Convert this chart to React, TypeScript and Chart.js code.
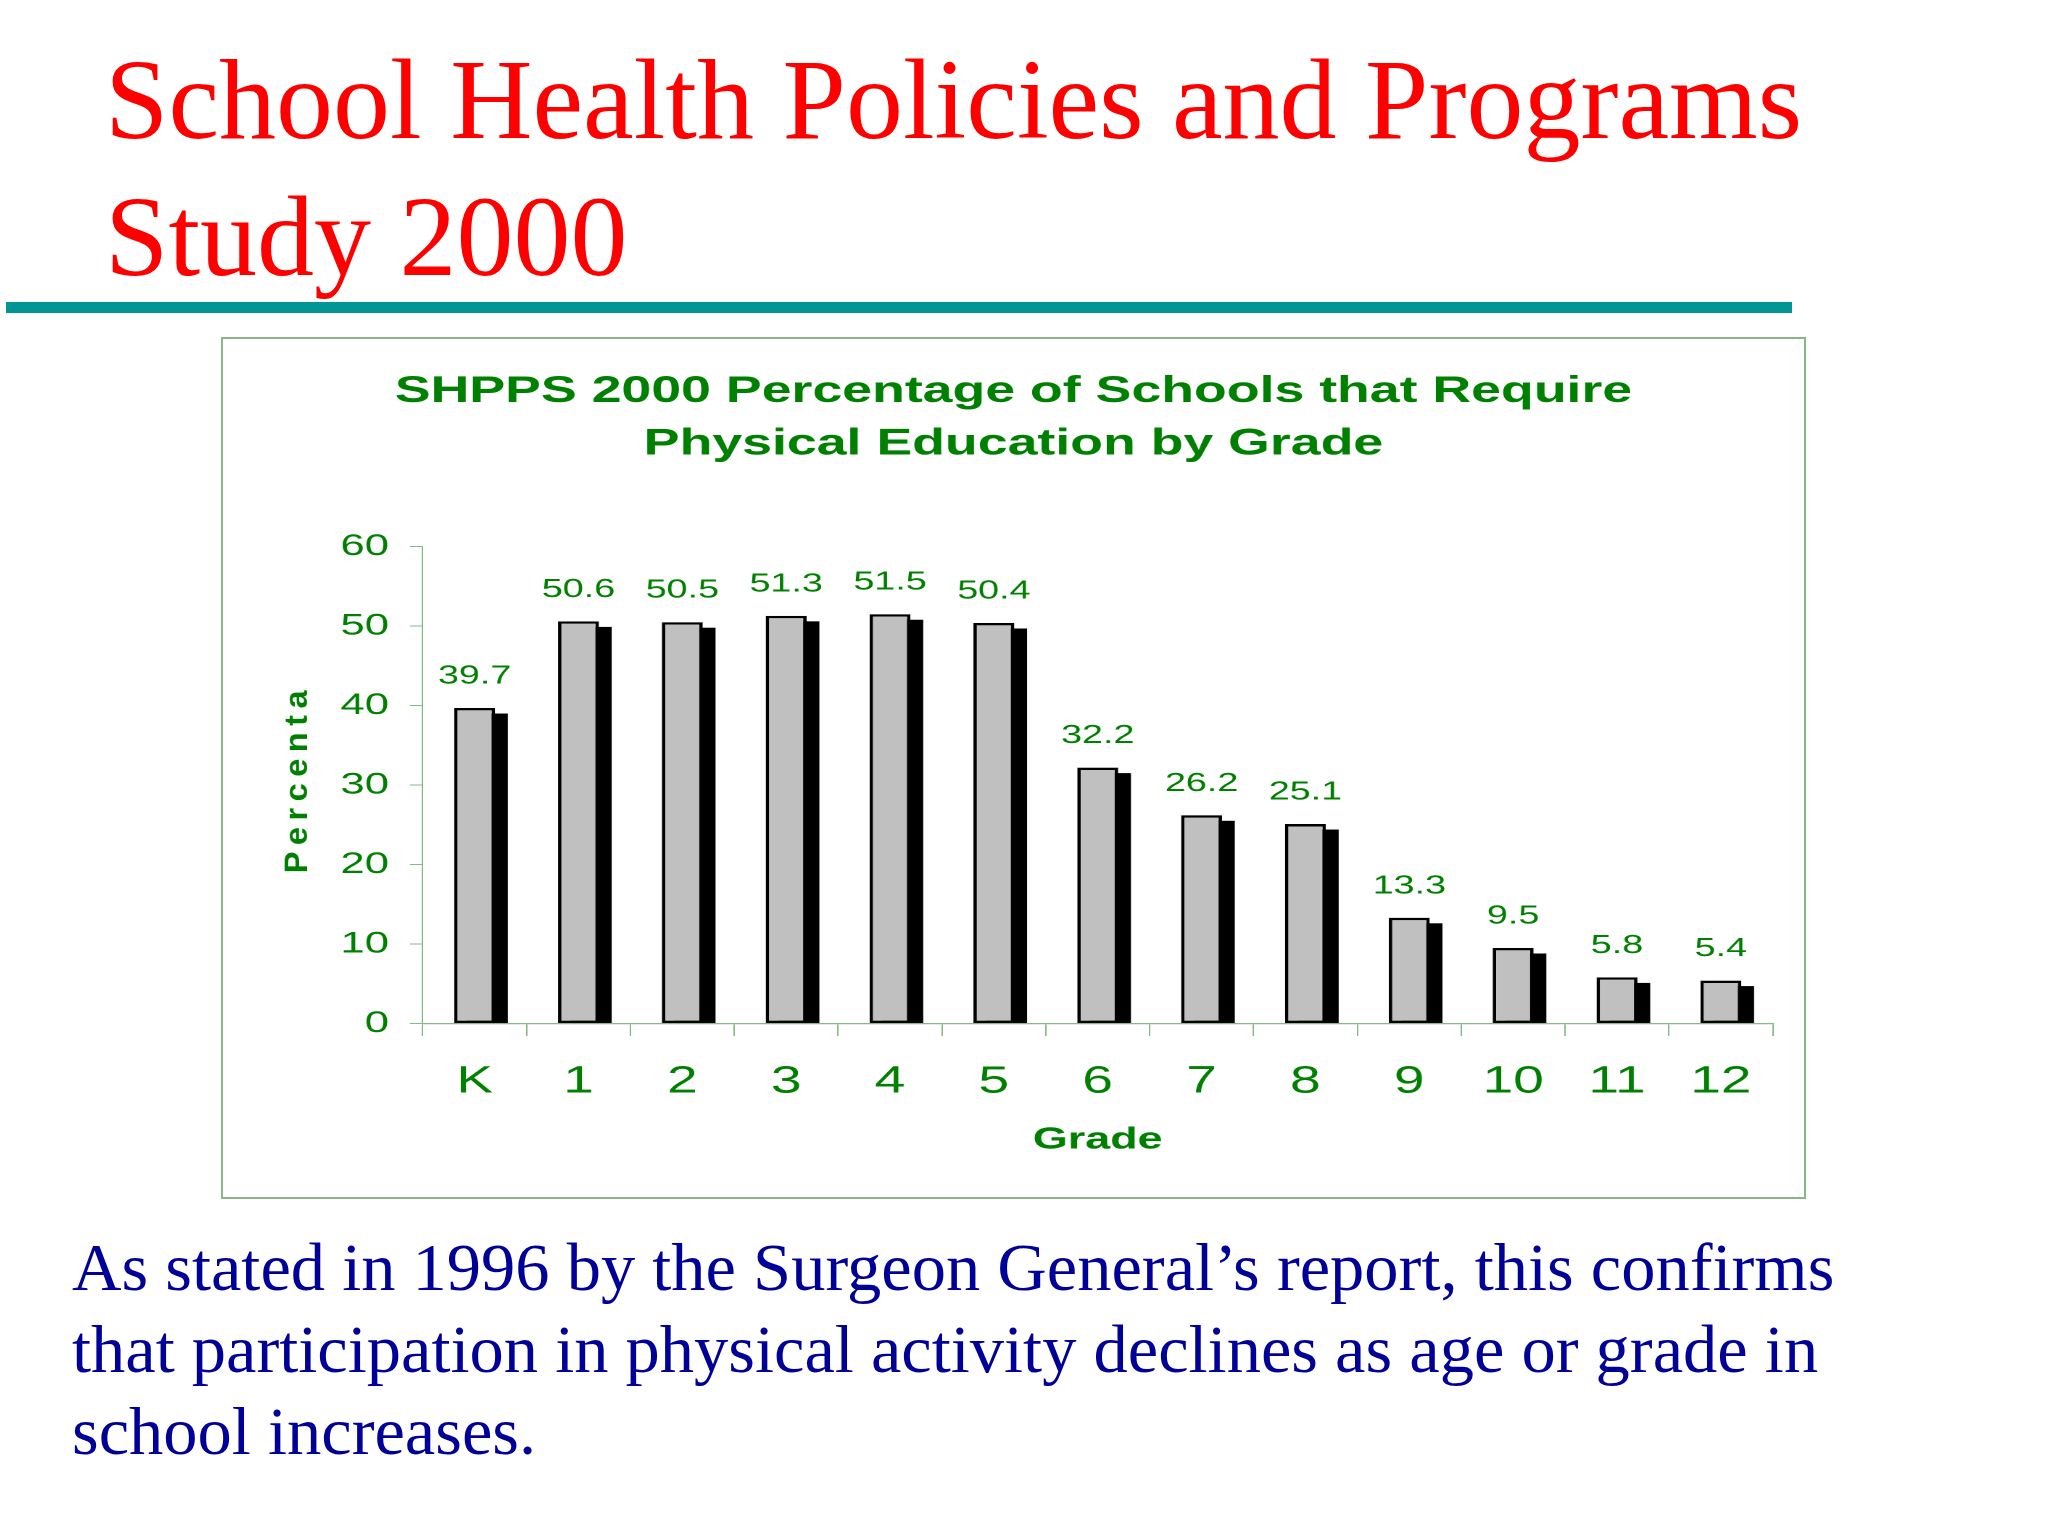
import React, { useEffect, useRef } from "react";
import { Chart, registerables } from "chart.js";

Chart.register(...registerables);

// chart data
const grades = ["K", "1", "2", "3", "4", "5", "6", "7", "8", "9", "10", "11", "12"];
const percentages = [39.7, 50.6, 50.5, 51.3, 51.5, 50.4, 32.2, 26.2, 25.1, 13.3, 9.5, 5.8, 5.4];
const yTickValues = [0, 10, 20, 30, 40, 50, 60];
const chartTitle = ["SHPPS 2000 Percentage of Schools that Require", "Physical Education by Grade"];
const xTitle = "Grade";
const yTitle = "Percenta";

const slideTitle = ["School Health Policies and Programs", "Study 2000"];
const bodyLines = [
  "As stated in 1996 by the Surgeon General\u2019s report, this confirms",
  "that participation in physical activity declines as age or grade in",
  "school increases.",
];

const SANS = "'Liberation Sans', Arial, sans-serif";
const SERIF = "'Liberation Serif', 'Times New Roman', serif";
const GREEN = "#008000";
const AXIS = "#88b888";
// the embedded chart is stretched sideways in the slide
const STRETCH = 1.45;
const BOX_W = 1581;
const BOX_H = 858;
const SHADOW_DX = 8.8;
const SHADOW_DY = 5.5;

const barShadow = {
  id: "barShadow",
  beforeDatasetsDraw(chart: any) {
    const { ctx } = chart;
    const meta = chart.getDatasetMeta(0);
    ctx.save();
    ctx.fillStyle = "#000";
    meta.data.forEach((bar: any) => {
      const { x, y, base, width } = bar.getProps(["x", "y", "base", "width"], true);
      const top = y + SHADOW_DY;
      ctx.fillRect(x - width / 2 + SHADOW_DX, top, width, base - top);
    });
    ctx.restore();
  },
};

const valueLabels = {
  id: "valueLabels",
  afterDatasetsDraw(chart: any) {
    const { ctx } = chart;
    const meta = chart.getDatasetMeta(0);
    ctx.save();
    ctx.font = `26px ${SANS}`;
    ctx.fillStyle = GREEN;
    ctx.textAlign = "center";
    ctx.textBaseline = "alphabetic";
    meta.data.forEach((bar: any, i: number) => {
      const { x, y } = bar.getProps(["x", "y"], true);
      ctx.fillText(String(percentages[i]), x, y - 24.5);
    });
    ctx.restore();
  },
};

// rotated axis title, kept unstretched and letter-spaced like the original
const yAxisTitle = {
  id: "yAxisTitle",
  afterDraw(chart: any) {
    const { ctx, chartArea } = chart;
    ctx.save();
    ctx.translate(51.9, (chartArea.top + chartArea.bottom) / 2 - 6.5);
    ctx.scale(1 / STRETCH, 1);
    ctx.rotate(-Math.PI / 2);
    ctx.font = `bold 32.5px ${SANS}`;
    (ctx as any).letterSpacing = "6.5px";
    ctx.fillStyle = GREEN;
    ctx.textAlign = "center";
    ctx.textBaseline = "middle";
    ctx.fillText(yTitle, 0, 0);
    ctx.restore();
  },
};

const App = () => {
  const canvasRef = useRef<HTMLCanvasElement>(null);

  useEffect(() => {
    if (!canvasRef.current) return;
    const chart = new Chart(canvasRef.current, {
      type: "bar",
      data: {
        labels: grades,
        datasets: [
          {
            data: percentages,
            backgroundColor: "#c0c0c0",
            borderColor: "#000",
            borderWidth: 2.4,
            borderSkipped: false,
            barPercentage: 0.394,
            categoryPercentage: 1,
          },
        ],
      },
      options: {
        animation: false,
        responsive: true,
        maintainAspectRatio: false,
        devicePixelRatio: 2,
        layout: { padding: { left: 21.5, right: 21.5, top: 0, bottom: 0 } },
        plugins: {
          legend: { display: false },
          tooltip: { enabled: false },
          title: {
            display: true,
            text: chartTitle,
            color: GREEN,
            font: { family: SANS, size: 37, weight: "bold", lineHeight: "52.6px" },
            padding: { top: 26.6, bottom: 75.9 },
          },
        },
        scales: {
          x: {
            grid: {
              display: true,
              drawOnChartArea: false,
              drawTicks: true,
              tickLength: 12.5,
              color: AXIS,
              lineWidth: 1,
              offset: true,
            },
            border: { display: true, color: AXIS, width: 1.3 },
            ticks: {
              color: GREEN,
              font: { family: SANS, size: 38 },
              padding: 23,
              maxRotation: 0,
              autoSkip: false,
            },
            title: {
              display: true,
              text: xTitle,
              color: GREEN,
              font: { family: SANS, size: 31, weight: "bold" },
              padding: { top: 0, bottom: 38.5 },
            },
            afterFit: (s: any) => {
              s.height = 173.5;
            },
          },
          y: {
            min: 0,
            max: 60,
            afterBuildTicks: (s: any) => {
              s.ticks = yTickValues.map((v) => ({ value: v }));
            },
            ticks: { color: GREEN, font: { family: SANS, size: 30 }, padding: 14.5 },
            grid: {
              drawOnChartArea: false,
              drawTicks: true,
              tickLength: 8.8,
              color: AXIS,
              lineWidth: 1,
            },
            border: { display: true, color: AXIS, width: 1 },
            afterFit: (s: any) => {
              s.width = 137.7 - 21.5;
            },
          },
        },
      },
      plugins: [barShadow, valueLabels, yAxisTitle],
    });

    return () => {
      chart.destroy();
    };
  }, []);

  return (
    <div
      style={{
        position: "absolute",
        left: 0,
        top: 0,
        width: 2048,
        height: 1536,
        background: "#fff",
        overflow: "hidden",
      }}
    >
      <div
        style={{
          position: "absolute",
          left: 105,
          top: 31,
          font: `114px ${SERIF}`,
          lineHeight: "137px",
          color: "#ff0000",
          whiteSpace: "nowrap",
        }}
      >
        {slideTitle.map((t) => (
          <div key={t}>{t}</div>
        ))}
      </div>
      <div style={{ position: "absolute", left: 6, top: 302, width: 1786, height: 11, background: "#009696" }} />
      <div
        style={{
          position: "absolute",
          left: 221,
          top: 337,
          width: BOX_W,
          height: BOX_H,
          border: "2px solid #86b886",
        }}
      >
        <div
          style={{
            position: "absolute",
            left: 0,
            top: 0,
            width: BOX_W / STRETCH,
            height: BOX_H,
            transform: `scaleX(${STRETCH})`,
            transformOrigin: "0 0",
          }}
        >
          <canvas ref={canvasRef} />
        </div>
      </div>
      <div
        style={{
          position: "absolute",
          left: 72,
          top: 1226,
          font: `68.5px ${SERIF}`,
          lineHeight: "82px",
          color: "#000099",
          whiteSpace: "nowrap",
        }}
      >
        {bodyLines.map((t) => (
          <div key={t}>{t}</div>
        ))}
      </div>
    </div>
  );
};

export default App;
